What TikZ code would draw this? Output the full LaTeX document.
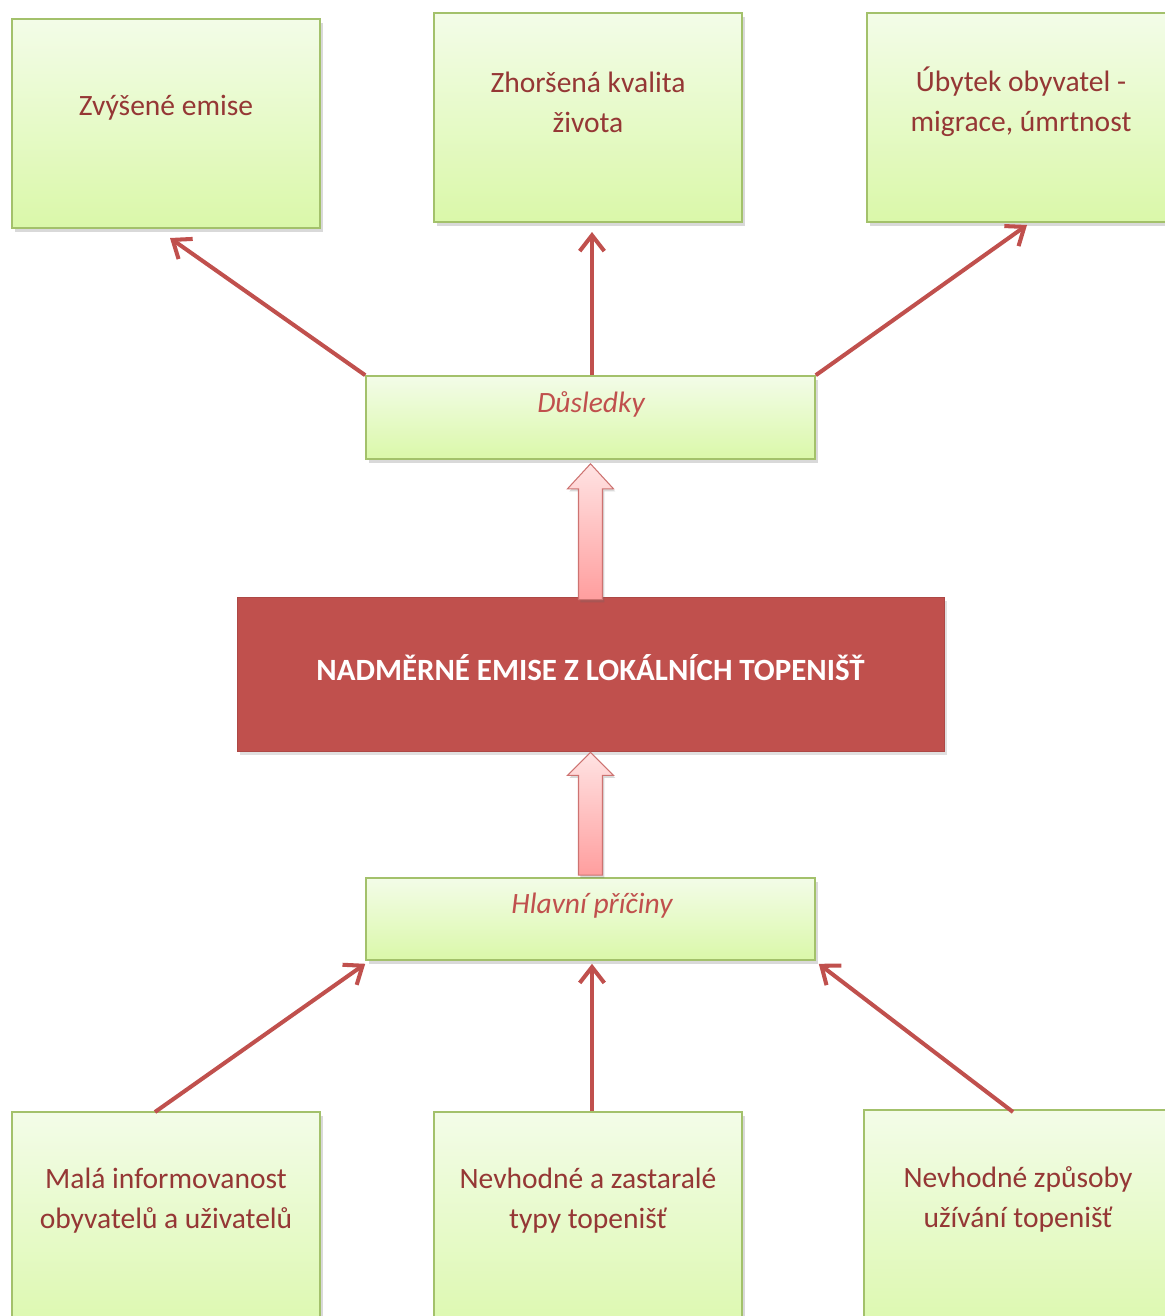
\documentclass[tikz,border=0pt]{standalone}
\usepackage{fontspec}
\setmainfont{Carlito}
\usetikzlibrary{arrows.meta,shadows,calc}
\definecolor{boxborder}{HTML}{A3C16B}
\definecolor{boxtop}{HTML}{F3FCE8}
\definecolor{boxbot}{HTML}{DAF8A9}
\definecolor{redmain}{HTML}{C0504D}
\definecolor{txtred}{HTML}{953735}
\definecolor{pinktop}{HTML}{FFE3E3}
\definecolor{pinkbot}{HTML}{FF9E9E}
\tikzset{
  gbox/.style={draw=boxborder, line width=0.9pt, top color=boxtop, bottom color=boxbot,
    rectangle, inner sep=0pt,
    drop shadow={shadow xshift=1.5pt, shadow yshift=-2pt, opacity=0.25, fill=black!60}},
  gtext/.style={text=txtred, font=\fontsize{16.8}{22.7}\selectfont, align=center, inner sep=0pt},
  itext/.style={text=redmain, font=\fontsize{16.8}{22.7}\selectfont\itshape, inner sep=0pt},
  conn/.style={draw=redmain, line width=2.3pt, -{Straight Barb[length=9pt,width=14pt,line width=2.3pt]}},
  blockarr/.style={draw=redmain!80, line width=0.6pt, top color=pinktop, bottom color=pinkbot,
    drop shadow={shadow xshift=1pt, shadow yshift=-1.5pt, opacity=0.25, fill=black!60}}
}
\begin{document}
\begin{tikzpicture}[x=0.02cm,y=-0.02cm]
\useasboundingbox (0,0) rectangle (1165,1316);
\clip (0,0) rectangle (1165,1316);
% top boxes
\node[gbox, minimum width=308*0.02cm, minimum height=209*0.02cm] (tl) at (166,123.5) {};
\node[gbox, minimum width=308*0.02cm, minimum height=209*0.02cm] (tm) at (588,117.5) {};
\node[gbox, minimum width=308*0.02cm, minimum height=209*0.02cm] (tr) at (1021,117.5) {};
\node[gtext] (tltext) at (166,108) {Zvýšené emise};
\node[gtext] (tmtext) at (588,102) {Zhoršená kvalita\\života};
\node[gtext] (trtext) at (1021,102) {Úbytek obyvatel -\\migrace, úmrtnost};
% consequences
\node[gbox, minimum width=449*0.02cm, minimum height=83*0.02cm] (dus) at (590.5,417.5) {};
\node[itext] (dustext) at (591,404) {Důsledky};
% central
\node[fill=redmain, draw=redmain!90!black, line width=0.4pt, minimum width=707*0.02cm, minimum height=154*0.02cm, inner sep=0pt,
  drop shadow={shadow xshift=1.5pt, shadow yshift=-2pt, opacity=0.2, fill=black!60}] (cen) at (590.5,674) {};
\node[text=white, font=\fontsize{17.6}{20}\selectfont\bfseries, inner sep=0pt] (centext) at (590.5,668) {NADMĚRNÉ EMISE Z LOKÁLNÍCH TOPENIŠŤ};
% causes
\node[gbox, minimum width=449*0.02cm, minimum height=82*0.02cm] (hla) at (590.5,919) {};
\node[itext] (hlatext) at (592,906) {Hlavní příčiny};
% bottom boxes
\node[gbox, minimum width=308*0.02cm, minimum height=240*0.02cm] (bl) at (166,1232) {};
\node[gbox, minimum width=308*0.02cm, minimum height=240*0.02cm] (bm) at (588,1232) {};
\node[gbox, minimum width=308*0.02cm, minimum height=240*0.02cm] (br) at (1018,1230) {};
\node[gtext] (bltext) at (166,1201) {Malá informovanost\\obyvatelů a uživatelů};
\node[gtext] (bmtext) at (588,1201) {Nevhodné a zastaralé\\typy topenišť};
\node[gtext] (brtext) at (1018,1199) {Nevhodné způsoby\\užívání topenišť};
% free ends of connectors
\coordinate (a1) at (170,238);
\coordinate (a2) at (592,232);
\coordinate (a3) at (1027,225);
\coordinate (s1) at (155,1112);
\coordinate (s3) at (1013,1112);
% upper connectors
\draw[conn] (dus.north west) -- (a1);
\draw[conn] (dus.north -| a2) -- (a2);
\draw[conn] (dus.north east) -- (a3);
% lower connectors
\draw[conn] (s1) -- ($(hla.south west)+(0,3)$);
\draw[conn] (bm.north -| a2) -- ($(hla.south -| a2)+(0,3)$);
\draw[conn] (s3) -- ($(hla.south east)+(3,3)$);
% block arrows
\path[blockarr] ($(cen.north)+(-12,3)$) -- ($(dus.south)+(-12,29)$) -- ($(dus.south)+(-23,29)$)
  -- ($(dus.south)+(0,4)$) -- ($(dus.south)+(23,29)$) -- ($(dus.south)+(12,29)$) -- ($(cen.north)+(12,3)$) -- cycle;
\path[blockarr] ($(hla.north)+(-12,-2)$) -- ($(cen.south)+(-12,24)$) -- ($(cen.south)+(-23,24)$)
  -- ($(cen.south)+(0,1)$) -- ($(cen.south)+(23,24)$) -- ($(cen.south)+(12,24)$) -- ($(hla.north)+(12,-2)$) -- cycle;
\end{tikzpicture}
\end{document}
